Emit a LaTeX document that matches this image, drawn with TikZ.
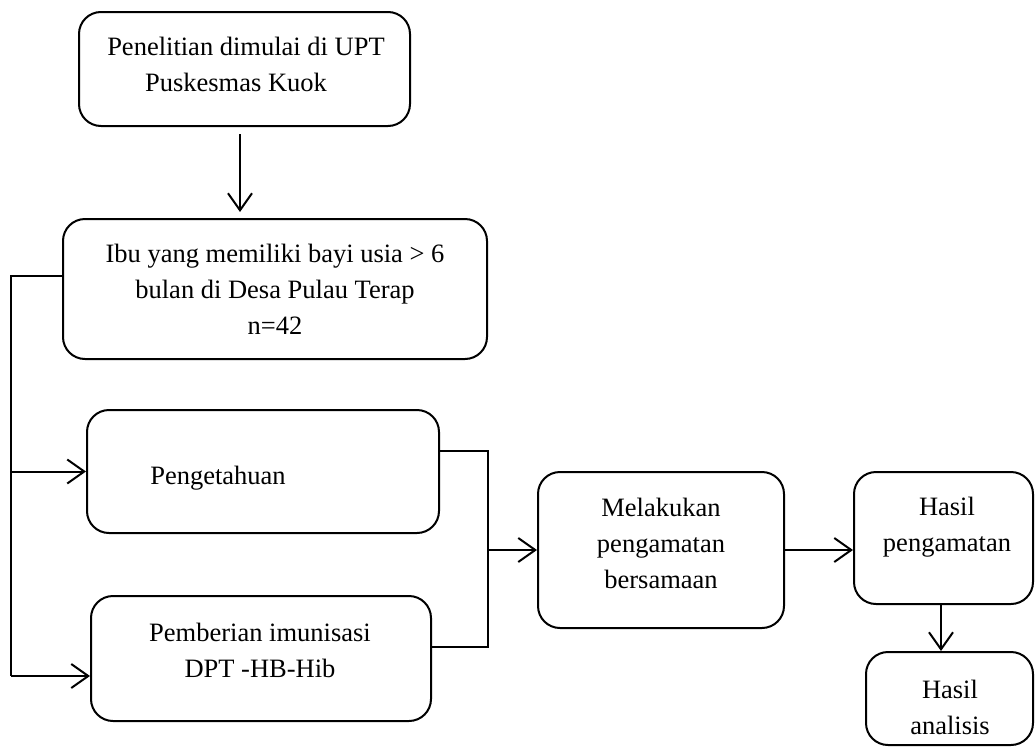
\documentclass[tikz,border=0pt]{standalone}
\usepackage{fontspec}
\setmainfont{Liberation Serif}
\usetikzlibrary{arrows.meta,calc}
\begin{document}
\begin{tikzpicture}[x=1pt,y=-1pt,
 box/.style={draw, line width=2pt, rounded corners=22pt, inner sep=0pt},
 txt/.style={align=center, font=\fontsize{26.5}{36}\selectfont, inner sep=0pt},
 conn/.style={line width=2pt},
 arr/.style={conn, -{Straight Barb[length=17pt,width=24pt,line width=2pt]}}]
\useasboundingbox (0,0) rectangle (1036,747);
% boxes
\node[box, minimum width=331pt, minimum height=114pt] (b1) at (244.5,69) {};
\node[box, minimum width=424pt, minimum height=140pt] (b2) at (275,289) {};
\node[box, minimum width=352pt, minimum height=123pt] (b3) at (263,471.5) {};
\node[box, minimum width=340pt, minimum height=125pt] (b4) at (261,658.5) {};
\node[box, minimum width=246pt, minimum height=156pt] (b5) at (661,550) {};
\node[box, minimum width=179pt, minimum height=132pt] (b6) at (943.5,538) {};
\node[box, minimum width=167pt, minimum height=93pt] (b7) at (949.5,698.5) {};
% texts
\node[txt] (t1) at (246,64) {Penelitian dimulai di UPT\\Puskesmas Kuok\hspace*{20pt}};
\node[txt] (t2) at (275,289) {Ibu yang memiliki bayi usia \textgreater{} 6\\bulan di Desa Pulau Terap\\n=42};
\node[txt] (t3) at (218,478) {Pengetahuan};
\node[txt] (t4) at (260,650) {Pemberian imunisasi\\DPT -HB-Hib};
\node[txt] (t5) at (661,543) {Melakukan\\pengamatan\\bersamaan};
\node[txt] (t6) at (947,527) {Hasil\\pengamatan};
\node[txt] (t7) at (950,707) {Hasil\\analisis};
% connectors
\coordinate (lx) at (11,0);
\coordinate (rx) at (488,0);
\coordinate (ax) at (240,0);
\draw[arr, shorten <=7pt, shorten >=6pt] (b1.south -| ax) -- (b2.north -| ax);
\draw[conn] ([yshift=13pt]b2.west) -- ([yshift=13pt]b2.west -| lx) -- ([yshift=-17.5pt]b4.west -| lx);
\draw[arr] (b3.west -| lx) -- (b3.west);
\draw[arr] ([yshift=-17.5pt]b4.west -| lx) -- ([yshift=-17.5pt]b4.west);
\draw[conn] ([yshift=20.5pt]b3.east) -- ([yshift=20.5pt]b3.east -| rx) -- ([yshift=11.5pt]b4.east -| rx) -- ([yshift=11.5pt]b4.east);
\draw[arr] (b5.west -| rx) -- (b5.west);
\draw[arr] (b5.east) -- (b5.east -| b6.west);
\draw[arr] ([xshift=-2.5pt]b6.south) -- ([xshift=-2.5pt]b6.south |- b7.north);
\end{tikzpicture}
\end{document}
